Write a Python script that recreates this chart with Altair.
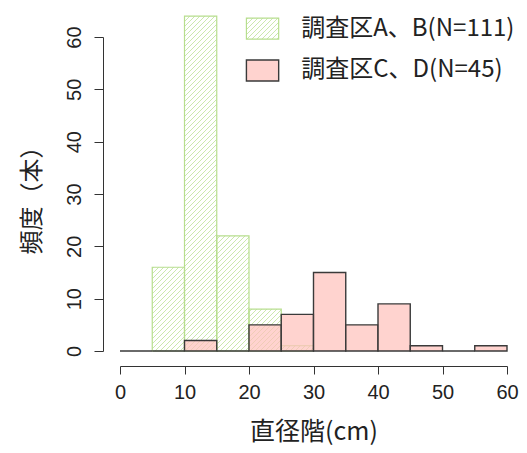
import altair as alt
import pandas as pd
import numpy as np

# ---- data ----
bin_left = [0, 5, 10, 15, 20, 25, 30, 35, 40, 45, 50, 55]
bin_width = 5
counts_ab = [0, 16, 64, 22, 8, 1, 0, 0, 0, 0, 0, 0]   # 調査区A、B (N=111)
counts_cd = [0, 0, 2, 0, 5, 7, 15, 5, 9, 1, 0, 1]     # 調査区C、D (N=45)
x_ticks = [0, 10, 20, 30, 40, 50, 60]
y_ticks = [0, 10, 20, 30, 40, 50, 60]
legend_labels = ["調査区A、B(N=111)", "調査区C、D(N=45)"]

W, H = 387, 314
PAD = {"left": 112, "top": 29, "right": 12, "bottom": 94}
PX_X, PX_Y = W / 60.0, H / 60.0
STEP = 5.0  # hatch spacing (px, horizontal)

def hatch(x0, x1, y0, y1):
    u0, u1 = x0 * PX_X, x1 * PX_X
    v0, v1 = y0 * PX_Y, y1 * PX_Y
    segs = []
    kmin = int(np.floor((u0 - v1) / STEP))
    kmax = int(np.ceil((u1 - v0) / STEP))
    for k in range(kmin, kmax + 1):
        c = k * STEP
        us = max(u0, v0 + c)
        ue = min(u1, v1 + c)
        if ue > us:
            segs.append({"hx": us / PX_X, "hy": (us - c) / PX_Y,
                         "hx2": ue / PX_X, "hy2": (ue - c) / PX_Y})
    return segs

ab = pd.DataFrame({"x0": bin_left, "x1": [b + bin_width for b in bin_left], "n": counts_ab})
ab = ab[ab.n > 0]
cd = pd.DataFrame({"x0": bin_left, "x1": [b + bin_width for b in bin_left], "n": counts_cd, "z": 0})

# legend boxes placed in data space (like R's legend("topright"))
leg = pd.DataFrame({
    "x0": [19.6, 19.6], "x1": [24.6, 24.6],
    "y0": [59.6, 51.6], "y1": [63.6, 55.6],
    "tx": [28.1, 28.1], "ty": [61.6, 53.6],
    "label": legend_labels,
})

segs = []
for r in ab.itertuples():
    segs += hatch(r.x0, r.x1, 0, r.n)
segs += hatch(leg.x0[0], leg.x1[0], leg.y0[0], leg.y1[0])
hdf = pd.DataFrame(segs)

GREEN_LINE = "#cbe8ad"
GREEN_EDGE = "#b7de8e"
PINK = "#ffc0bb"
EDGE = "#3a3a3a"
FONT_JP = "Noto Sans CJK JP"
FONT_NUM = "Liberation Sans"

xs = alt.Scale(domain=[0, 60], nice=False, zero=False)
ys = alt.Scale(domain=[0, 60], nice=False)

xaxis = alt.Axis(values=x_ticks, title="直径階(cm)", offset=15, grid=False,
                 tickSize=8, labelFontSize=20, labelFont=FONT_NUM, labelPadding=8,
                 titleFont=FONT_JP, titleFontSize=25, titleFontWeight="normal",
                 titlePadding=17, domainColor="#333", tickColor="#333",
                 labelColor="#222", titleColor="#222", labelFlush=False)
yaxis = alt.Axis(values=y_ticks, title="頻度（本）", offset=17, grid=False,
                 tickSize=9, labelFontSize=20, labelFont=FONT_NUM, labelAngle=270,
                 labelAlign="center", labelBaseline="bottom", labelPadding=10,
                 titleFont=FONT_JP, titleFontSize=24, titleFontWeight="normal",
                 titlePadding=20, domainColor="#333", tickColor="#333",
                 labelColor="#222", titleColor="#222", labelFlush=False)

hatch_layer = alt.Chart(hdf).mark_rule(color=GREEN_LINE, strokeWidth=1).encode(
    x=alt.X("hx:Q", scale=xs, axis=xaxis),
    y=alt.Y("hy:Q", scale=ys, axis=yaxis),
    x2="hx2:Q", y2="hy2:Q",
)

green_bars = alt.Chart(ab).mark_rect(fillOpacity=0, stroke=GREEN_EDGE, strokeWidth=1.2).encode(
    x=alt.X("x0:Q", scale=xs), x2="x1:Q",
    y=alt.Y("n:Q", scale=ys), y2=alt.Y2(datum=0),
)

pink_bars = alt.Chart(cd).mark_rect(fill=PINK, fillOpacity=0.7, stroke=EDGE, strokeWidth=1.4).encode(
    x=alt.X("x0:Q", scale=xs), x2="x1:Q",
    y=alt.Y("n:Q", scale=ys), y2="z:Q",
)

leg1 = alt.Chart(leg.iloc[[0]]).mark_rect(fillOpacity=0, stroke=GREEN_EDGE, strokeWidth=1.2).encode(
    x=alt.X("x0:Q", scale=xs), x2="x1:Q", y=alt.Y("y0:Q", scale=ys), y2="y1:Q")
leg2 = alt.Chart(leg.iloc[[1]]).mark_rect(fill=PINK, fillOpacity=0.7, stroke=EDGE, strokeWidth=1.4).encode(
    x=alt.X("x0:Q", scale=xs), x2="x1:Q", y=alt.Y("y0:Q", scale=ys), y2="y1:Q")
leg_text = alt.Chart(leg).mark_text(align="left", baseline="middle", font=FONT_JP,
                                    fontSize=24, color="#222").encode(
    x=alt.X("tx:Q", scale=xs), y=alt.Y("ty:Q", scale=ys), text="label:N")

chart = alt.layer(hatch_layer, green_bars, pink_bars, leg1, leg2, leg_text).properties(
    width=W, height=H, padding=PAD,
    autosize=alt.AutoSizeParams(type="none"),
    background="white",
).configure_view(stroke=None)

chart.save("out.html", embed_options={"renderer": "svg", "actions": False})
